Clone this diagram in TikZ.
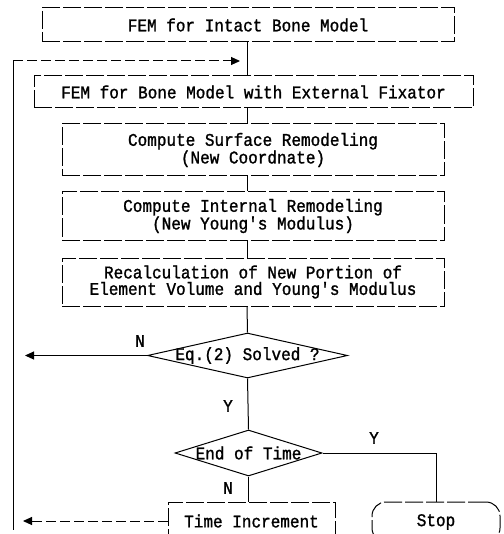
\documentclass[tikz,border=0pt]{standalone}
\usepackage{fontspec}
\newfontfamily\flowfont[FakeBold=1.3,FakeStretch=0.9]{Liberation Mono}
\usetikzlibrary{shapes.geometric,arrows.meta}
\begin{document}
\begin{tikzpicture}[x=1pt,y=-1pt,
  every node/.style={font=\flowfont\fontsize{17.8}{16.5}\selectfont, inner sep=0pt},
  procbox/.style={draw, line width=1pt, dash pattern=on 18pt off 3pt, rectangle, align=center},
  decision/.style={draw, line width=1pt, diamond, inner sep=0pt},
  link/.style={line width=1pt},
  loopback/.style={line width=1pt, dash pattern=on 10pt off 4pt, -{Triangle[length=9pt,width=8pt]}},
  tag/.style={font=\flowfont\fontsize{17.8}{16}\selectfont}
]
\useasboundingbox (0,0) rectangle (503,534);
\clip (0,0) rectangle (503,534);

\coordinate (spine) at (247,0);

\node[procbox, minimum width=412pt, minimum height=34pt] (b1) at (248,25) {FEM for Intact Bone Model};
\node[procbox, minimum width=439pt, minimum height=32pt] (b2) at (253.5,92) {FEM for Bone Model with External Fixator};
\node[procbox, minimum width=382pt, minimum height=52pt] (b3) at (253,150) {Compute Surface Remodeling\\(New Coordnate)};
\node[procbox, minimum width=382pt, minimum height=49pt] (b4) at (253,216) {Compute Internal Remodeling\\(New Young's Modulus)};
\node[procbox, minimum width=382pt, minimum height=48pt] (b5) at (253,282) {Recalculation of New Portion of\\Element Volume and Young's Modulus};

\node[decision, minimum width=200pt, minimum height=45pt] (d1) at (247.5,355.5) {};
\node (d1t) at (d1.center) {Eq.(2) Solved ?};
\node[decision, minimum width=147pt, minimum height=46pt] (d2) at (248.5,453) {};
\node (d2t) at (d2.center) {End of Time};

\node[procbox, minimum width=167pt, minimum height=38pt] (ti) at (251.5,521) {Time Increment};
\node[draw, line width=1pt, dash pattern=on 18pt off 3pt, rounded corners=14pt, minimum width=128pt, minimum height=40pt] (stop) at (436,522) {Stop};

% main spine
\draw[link] (b1.south -| spine) -- (b2.north -| spine);
\draw[link] (b2.south -| spine) -- (b3.north -| spine);
\draw[link] (b3.south -| spine) -- (b4.north -| spine);
\draw[link] (b4.south -| spine) -- (b5.north -| spine);
\draw[link] (b5.south -| spine) -- (d1.north);
\draw[link] (d1.south) -- (d2.north);
\draw[link] (d2.south) -- (ti.north -| d2.south);
\draw[link] (d2.east) -| (stop.north);

% loop back
\coordinate (loopTop) at (13,61);
\coordinate (loopBot) at (13,530);
\coordinate (loopTip) at (240,61);
\coordinate (nTip) at (25,355.5);
\coordinate (bTip) at (23,521);
\draw[link] (loopTop) -- (loopBot);
\draw[loopback] (loopTop) -- (loopTip);
\draw[link, -{Triangle[length=9pt,width=8pt]}] (d1.west) -- (nTip);
\draw[loopback] (ti.west) -- (bTip);

% labels
\node[tag] (lN1) at (140,341) {N};
\node[tag] (lY1) at (228,406) {Y};
\node[tag] (lY2) at (374,438) {Y};
\node[tag] (lN2) at (228,488) {N};
\end{tikzpicture}
\end{document}
